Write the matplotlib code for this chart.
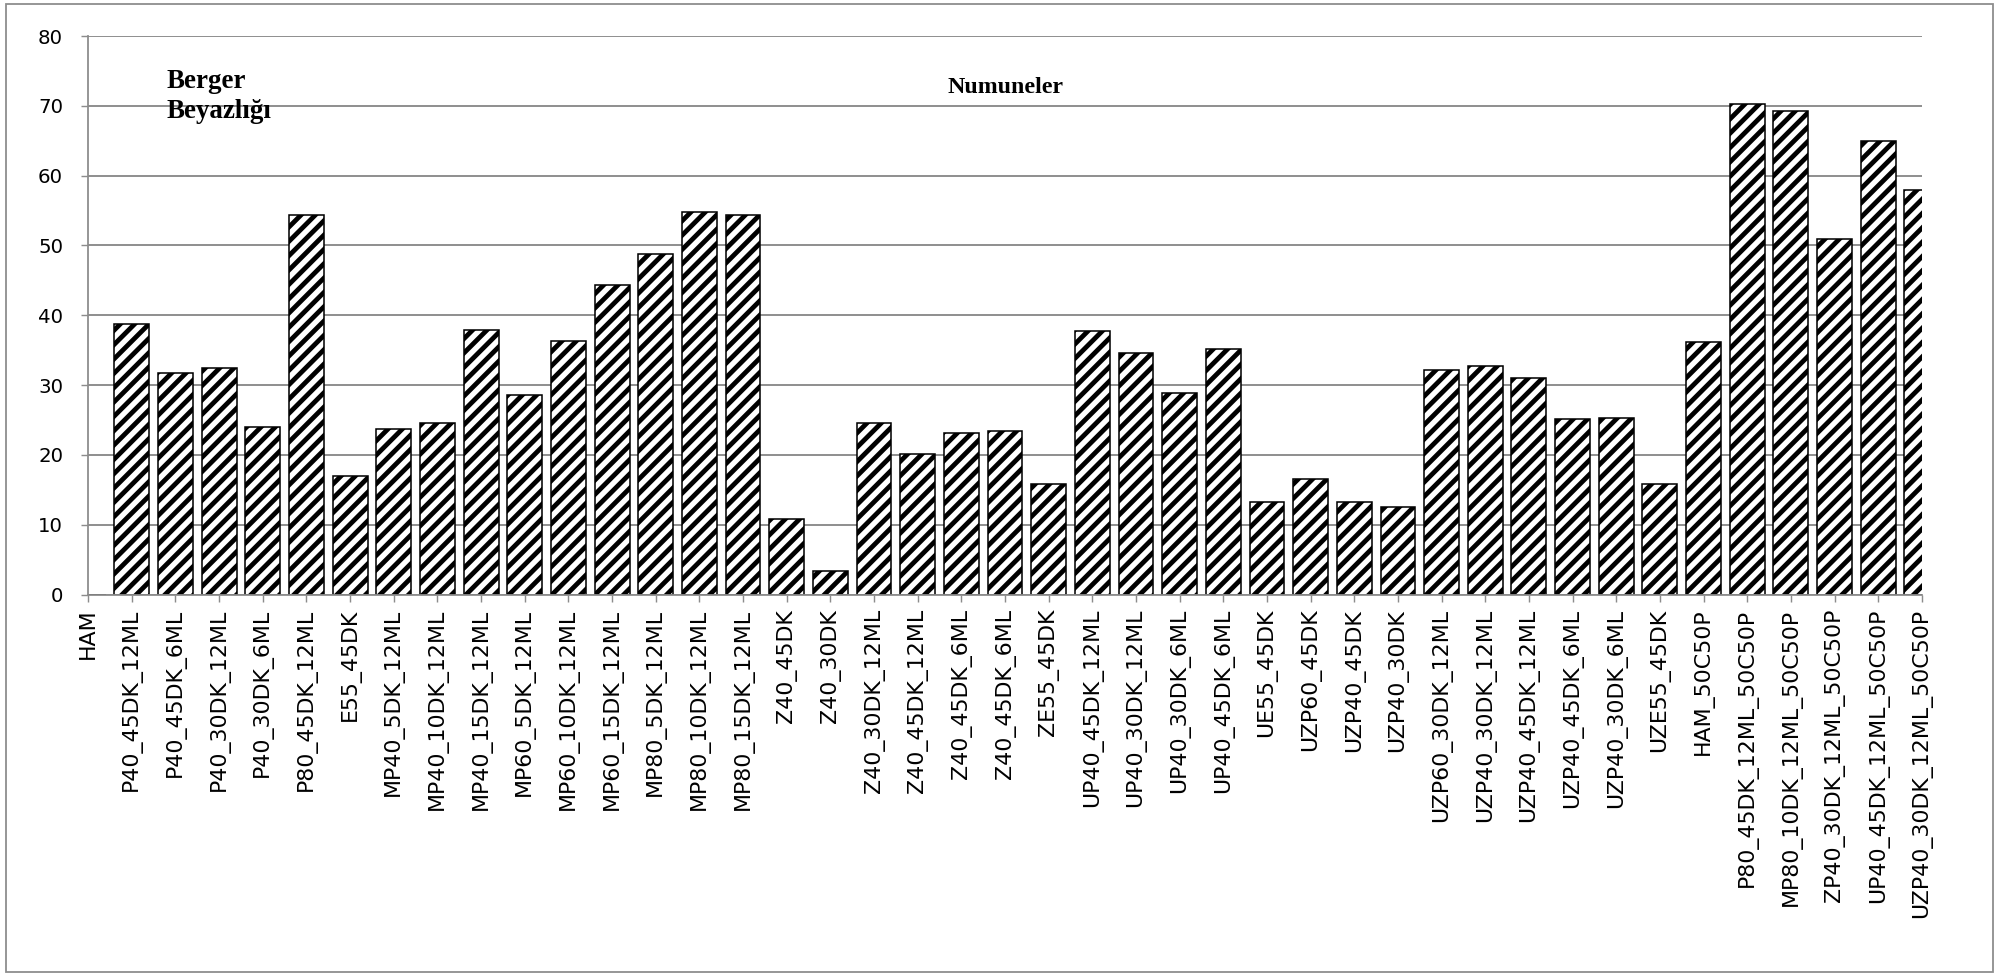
import numpy as np
import matplotlib
matplotlib.use("Agg")
import matplotlib.pyplot as plt
from matplotlib.patches import Rectangle

# sample names and Berger whiteness values
samples = ["HAM", "P40_45DK_12ML", "P40_45DK_6ML", "P40_30DK_12ML", "P40_30DK_6ML",
           "P80_45DK_12ML", "E55_45DK", "MP40_5DK_12ML", "MP40_10DK_12ML", "MP40_15DK_12ML",
           "MP60_5DK_12ML", "MP60_10DK_12ML", "MP60_15DK_12ML", "MP80_5DK_12ML",
           "MP80_10DK_12ML", "MP80_15DK_12ML", "Z40_45DK", "Z40_30DK", "Z40_30DK_12ML",
           "Z40_45DK_12ML", "Z40_45DK_6ML", "Z40_45DK_6ML", "ZE55_45DK", "UP40_45DK_12ML",
           "UP40_30DK_12ML", "UP40_30DK_6ML", "UP40_45DK_6ML", "UE55_45DK", "UZP60_45DK",
           "UZP40_45DK", "UZP40_30DK", "UZP60_30DK_12ML", "UZP40_30DK_12ML",
           "UZP40_45DK_12ML", "UZP40_45DK_6ML", "UZP40_30DK_6ML", "UZE55_45DK", "HAM_50C50P",
           "P80_45DK_12ML_50C50P", "MP80_10DK_12ML_50C50P", "ZP40_30DK_12ML_50C50P",
           "UP40_45DK_12ML_50C50P", "UZP40_30DK_12ML_50C50P"]
berger = [0, 38.8, 31.7, 32.4, 24.0, 54.4, 17.0, 23.7, 24.6, 37.9,
          28.6, 36.3, 44.3, 48.8, 54.8, 54.4, 10.8, 3.4, 24.5, 20.1,
          23.1, 23.4, 15.9, 37.7, 34.6, 28.8, 35.2, 13.3, 16.5, 13.2,
          12.5, 32.2, 32.8, 31.0, 25.1, 25.3, 15.8, 36.2, 70.3, 69.2,
          50.9, 65.0, 58.0]
yticks = [0, 10, 20, 30, 40, 50, 60, 70, 80]

DPI = 86
plt.rcParams['hatch.linewidth'] = 4.0
plt.rcParams['font.family'] = ['DejaVu Sans']

fig = plt.figure(figsize=(2002 / DPI, 973 / DPI), dpi=DPI)
ax = fig.add_axes([0.044, 0.389, 0.916, 0.574])

x = np.arange(len(samples))
ax.bar(x, berger, width=0.8, color="white", edgecolor="black", linewidth=1.3,
       hatch="//", zorder=1)

ax.set_xlim(0, len(samples) - 1)
ax.set_ylim(0, 80)
ax.set_yticks(yticks)
ax.set_xticks(x)
ax.set_xticklabels(samples, rotation=90, fontsize=18.5)
ax.tick_params(axis="y", labelsize=16.5, length=6, width=1.2, color="#8c8c8c", pad=15)
ax.tick_params(axis="x", length=6, width=1.2, color="#8c8c8c", pad=6)

# horizontal grid behind bars
ax.yaxis.grid(True, color="#858585", linewidth=1.5, zorder=0)
ax.set_axisbelow(True)
for side in ["top", "right"]:
    ax.spines[side].set_visible(False)
for side in ["left", "bottom"]:
    ax.spines[side].set_color("#8c8c8c")
    ax.spines[side].set_linewidth(1.5)

# chart title block and axis caption
ax.add_patch(Rectangle((1.6, 60.6), 4.7, 18.0, facecolor="white", edgecolor="none",
                       zorder=0.5))
serif = ["Liberation Serif", "DejaVu Serif"]
ax.text(1.8, 72.6, "Berger", fontsize=22.5, fontweight="bold", family=serif,
        ha="left", va="baseline")
ax.text(1.8, 68.3, "Beyazlığı", fontsize=22.5, fontweight="bold", family=serif,
        ha="left", va="baseline")
ax.text(21.0, 71.8, "Numuneler", fontsize=20, fontweight="bold", family=serif,
        ha="center", va="baseline")

# frame around the whole chart
fig.patches.append(Rectangle((0.003, 0.001), 0.9925, 0.995, transform=fig.transFigure,
                             fill=False, edgecolor="#8c8c8c", linewidth=1.5))

fig.savefig("out.png", dpi=DPI)
